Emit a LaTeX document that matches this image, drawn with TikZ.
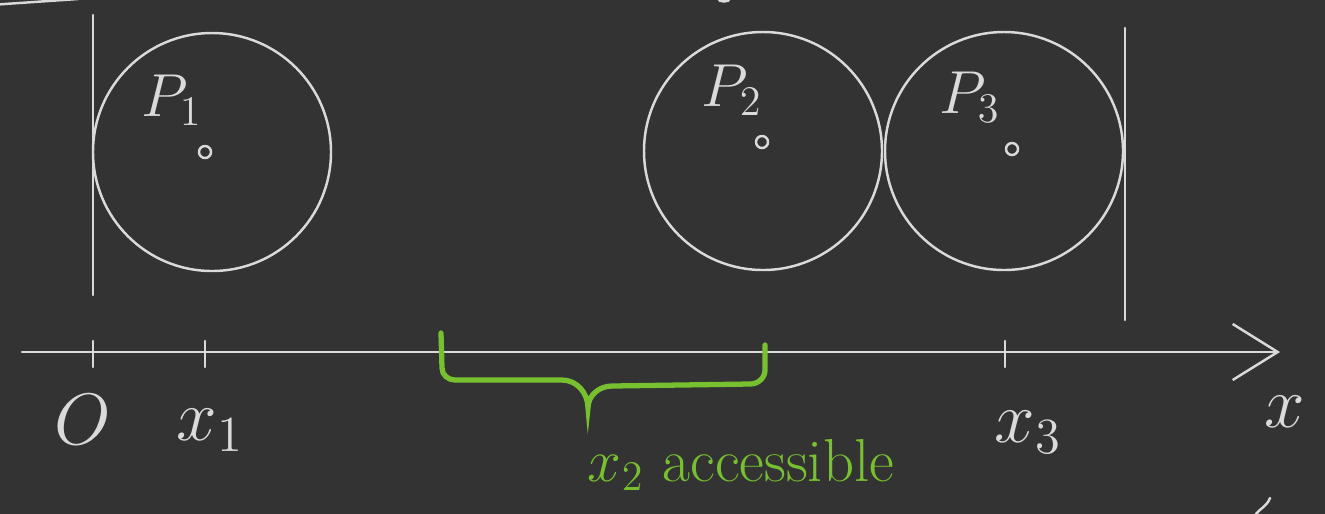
\documentclass[tikz,border=0pt]{standalone}
\usepackage{xcolor}
\usepackage{tikz}
\usetikzlibrary{arrows.meta,positioning,calc}

\definecolor{board}{HTML}{333333}
\definecolor{chalk}{HTML}{DADADA}
\definecolor{marker}{HTML}{77C030}

\begin{document}
\begin{tikzpicture}[
    line cap=round,
    >={Straight Barb[length=4.5mm, width=5.6mm]},
    ball/.style={
        circle, draw=chalk, line width=0.7pt,
        minimum size=2.38cm, inner sep=0pt
    },
    dot/.style={
        circle, draw=chalk, line width=0.7pt,
        minimum size=1.2mm, inner sep=0pt
    },
    lbl/.style={text=chalk, font=\LARGE},
    axlbl/.style={text=chalk, font=\huge},
    wall/.style={draw=chalk, line width=0.7pt},
    brace/.style={draw=marker, line width=1.5pt}
]

    % board
    \useasboundingbox (0,0) rectangle (13.25,-5.13);
    \fill[board] (-0.2,0.2) rectangle (13.45,-5.33);
    \draw[wall] (-0.1,-0.05) -- (0.78,0.01);
    \draw[wall] (7.18,0.02) to[out=-90,in=-90] (7.3,0.02);
    \draw[wall] (12.53,-5.2) to[out=75,in=-110] (12.7,-4.98);

    % walls
    \draw[wall] (0.93,-0.15) -- (0.93,-2.95);
    \draw[wall] (11.25,-0.28) -- (11.25,-3.2);

    % particles
    \node [ball] (p1) at (2.12,-1.52) {};
    \node [ball] (p2) at (7.63,-1.51) {};
    \node [ball] (p3) at (10.04,-1.51) {};
    \node [dot] (c1) at (2.05,-1.52) {};
    \node [dot] (c2) at (7.62,-1.42) {};
    \node [dot] (c3) at (10.12,-1.49) {};
    \node [lbl] (l1) at (1.72,-1.0) {$P_1$};
    \node [lbl] (l2) at (7.32,-0.9) {$P_2$};
    \node [lbl] (l3) at (9.7,-0.97) {$P_3$};

    % axis
    \coordinate (axstart) at (0.22,-3.52);
    \coordinate (axend) at (12.8,-3.52);
    \draw [->, chalk, line width=0.7pt] (axstart) -- (axend);
    \foreach \x/\n in {0.93/o, 2.05/x1, 10.05/x3} {
        \coordinate (t\n) at (\x,-3.52);
        \draw [wall] (t\n) ++(0,0.11) -- ++(0,-0.26);
    }
    \node [axlbl] (lo) at (0.83,-4.2) {$O$};
    \node [axlbl] (lx1) at (2.1,-4.3) {$x_1$};
    \node [axlbl] (lx3) at (10.28,-4.32) {$x_3$};
    \node [axlbl] (lx) at (12.85,-4.12) {$x$};

    % accessible range
    \coordinate (bl) at (4.41,-3.33);
    \coordinate (br) at (7.65,-3.45);
    \draw [brace] (bl) -- (4.42,-3.68) to[out=-90,in=180] (4.55,-3.8)
        -- (5.62,-3.8) to[out=0,in=90] (5.88,-4.08)
        to[out=90,in=180] (6.12,-3.86) -- (7.5,-3.84)
        to[out=0,in=-90] (7.65,-3.7) -- (br);
    \node [text=marker, font=\LARGE] (acc) at (7.41,-4.65) {$x_2$ accessible};

\end{tikzpicture}
\end{document}
